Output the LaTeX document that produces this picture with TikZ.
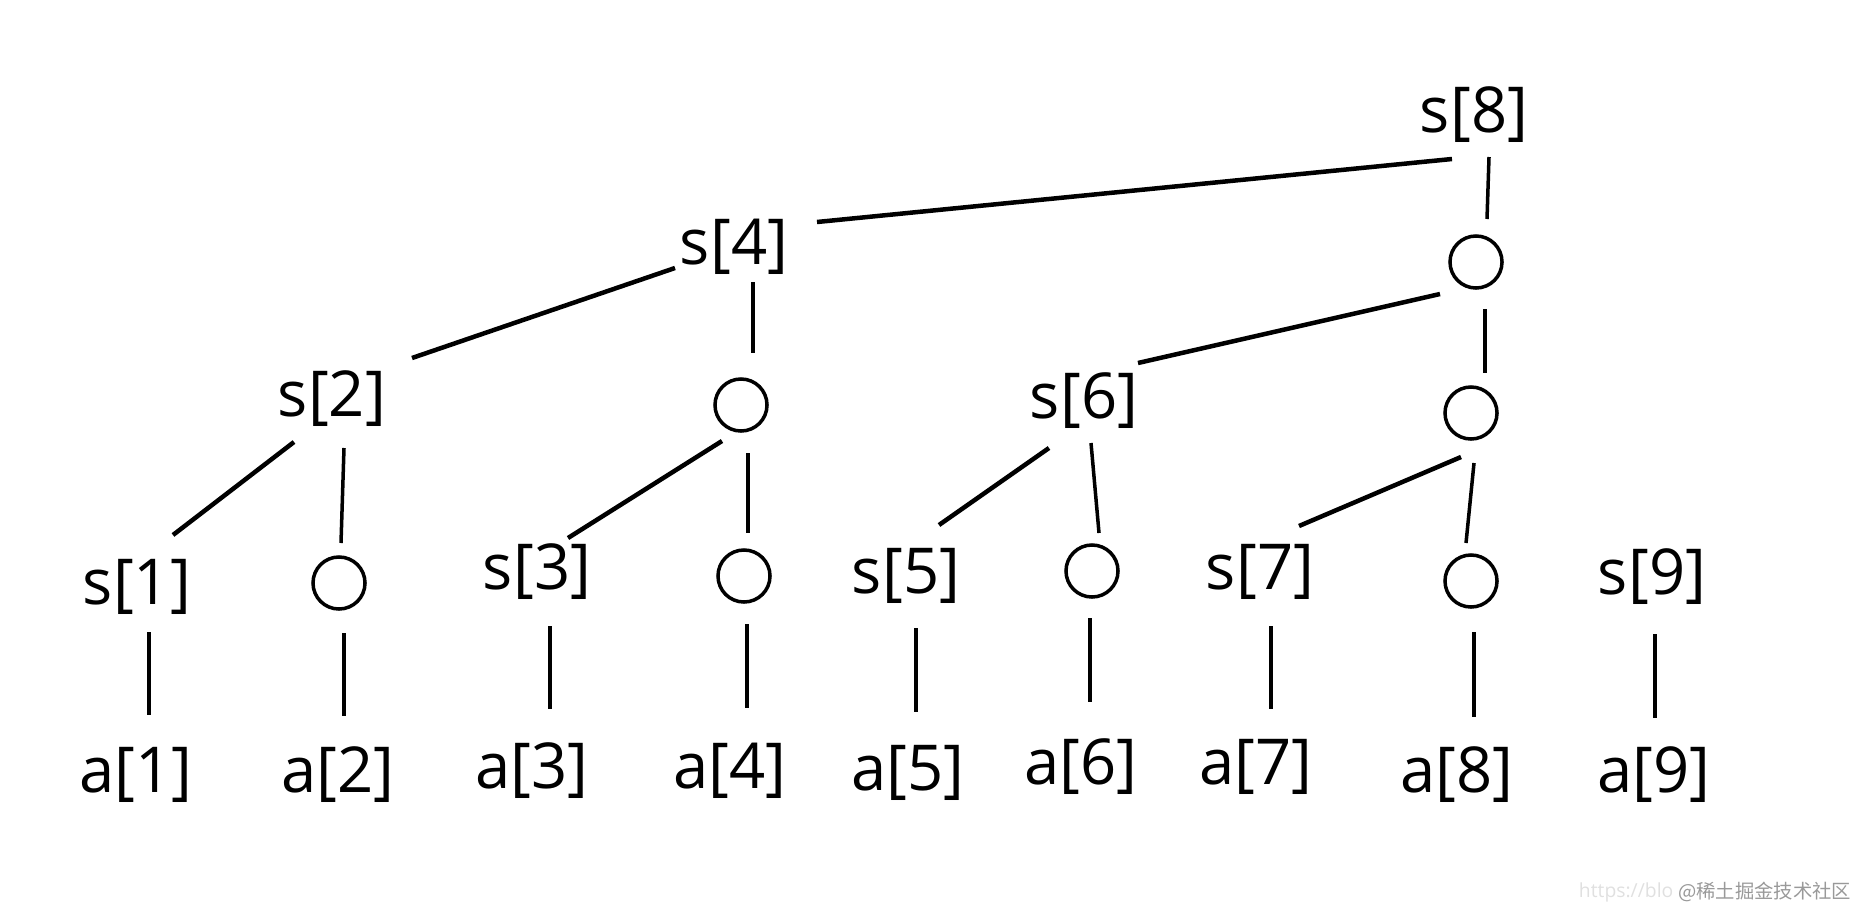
\documentclass[tikz,border=0pt]{standalone}
\usepackage{fontspec}
\setmainfont{Open Sans}
\newfontfamily\cjkfont{Noto Sans CJK SC}
\usetikzlibrary{calc}
\tikzset{
	lbl/.style={inner sep=0pt, font=\fontsize{18}{20}\selectfont},
	hole/.style={circle, draw, line width=0.035cm, minimum size=0.52cm, inner sep=0pt},
	edge/.style={line width=0.045cm},
	stem/.style={line width=0.035cm}
}

\begin{document}
\begin{tikzpicture}[x=0.01cm, y=-0.01cm]
		%%%%% START %%%%%
		\useasboundingbox (0,0) rectangle (1861,909);
		
		% tree levels
		\node[lbl] (s8) at (1474,115) {s[8]};
		
		\node[lbl] (s4) at (734,247) {s[4]};
		\node[hole] (c8a) at (1476,262) {};
		
		\node[lbl] (s2) at (332,399) {s[2]};
		\node[hole] (c4) at (741,405) {};
		\node[lbl] (s6) at (1084,401) {s[6]};
		\node[hole] (c8b) at (1471,413) {};
		
		\node[lbl] (s1) at (137,587) {s[1]};
		\node[hole] (c2) at (339,583) {};
		\node[lbl] (s3) at (537,572) {s[3]};
		\node[hole] (c3) at (744,576) {};
		\node[lbl] (s5) at (906,576) {s[5]};
		\node[hole] (c6) at (1092,571) {};
		\node[lbl] (s7) at (1260,572) {s[7]};
		\node[hole] (c7) at (1471,581) {};
		\node[lbl] (s9) at (1652,577) {s[9]};
		
		% array
		\node[lbl] (a1) at (136,775) {a[1]};
		\node[lbl] (a2) at (338,775) {a[2]};
		\node[lbl] (a3) at (532,771) {a[3]};
		\node[lbl] (a4) at (730,771) {a[4]};
		\node[lbl] (a5) at (908,773) {a[5]};
		\node[lbl] (a6) at (1081,767) {a[6]};
		\node[lbl] (a7) at (1256,767) {a[7]};
		\node[lbl] (a8) at (1457,775) {a[8]};
		\node[lbl] (a9) at (1654,775) {a[9]};
		
		% branches
		\draw[edge] ($(s8)+(-22,44)$) -- ($(s4)+(83,-25)$);
		\draw[stem] ($(s8)+(15,42)$) -- ($(c8a)+(11,-43)$);
		
		\draw[edge] ($(s4)+(-59,21)$) -- ($(s2)+(80,-41)$);
		\draw[stem] ($(s4)+(19,35)$) -- ($(c4)+(12,-52)$);
		\draw[edge] ($(c8a)+(-36,32)$) -- ($(s6)+(54,-38)$);
		\draw[stem] ($(c8a)+(9,47)$) -- ($(c8b)+(14,-40)$);
		
		\draw[edge] ($(s2)+(-38,43)$) -- ($(s1)+(36,-52)$);
		\draw[stem] ($(s2)+(12,49)$) -- ($(c2)+(2,-40)$);
		\draw[edge] ($(c4)+(-19,36)$) -- ($(s3)+(31,-34)$);
		\draw[stem] ($(c4)+(7,48)$) -- ($(c3)+(4,-43)$);
		\draw[edge] ($(s6)+(-35,47)$) -- ($(s5)+(33,-51)$);
		\draw[stem] ($(s6)+(7,42)$) -- ($(c6)+(7,-38)$);
		\draw[edge] ($(c8b)+(-10,44)$) -- ($(s7)+(39,-46)$);
		\draw[stem] ($(c8b)+(3,50)$) -- ($(c7)+(-5,-38)$);
		
		% down to a[i]
		\draw[stem] ($(s1)+(12,45)$) -- ($(a1)+(13,-60)$);
		\draw[stem] ($(c2)+(5,50)$) -- ($(a2)+(6,-59)$);
		\draw[stem] ($(s3)+(13,54)$) -- ($(a3)+(18,-62)$);
		\draw[stem] ($(c3)+(3,48)$) -- ($(a4)+(17,-63)$);
		\draw[stem] ($(s5)+(10,52)$) -- ($(a5)+(8,-61)$);
		\draw[stem] ($(c6)+(-2,47)$) -- ($(a6)+(9,-65)$);
		\draw[stem] ($(s7)+(11,54)$) -- ($(a7)+(15,-58)$);
		\draw[stem] ($(c7)+(3,51)$) -- ($(a8)+(17,-58)$);
		\draw[stem] ($(s9)+(3,57)$) -- ($(a9)+(1,-57)$);
		
		% watermark
		\node[anchor=east, inner sep=0pt, text=black!40, font=\cjkfont\fontsize{5.5}{6}\selectfont] (wm) at (1852,892) {@稀土掘金技术社区};
		\node[anchor=east, inner sep=0pt, text=black!12, font=\fontsize{5.5}{6}\selectfont] (url) at ([xshift=-1pt]wm.west) {https://blo};
		
		%%%%% END %%%%%
\end{tikzpicture}
\end{document}
